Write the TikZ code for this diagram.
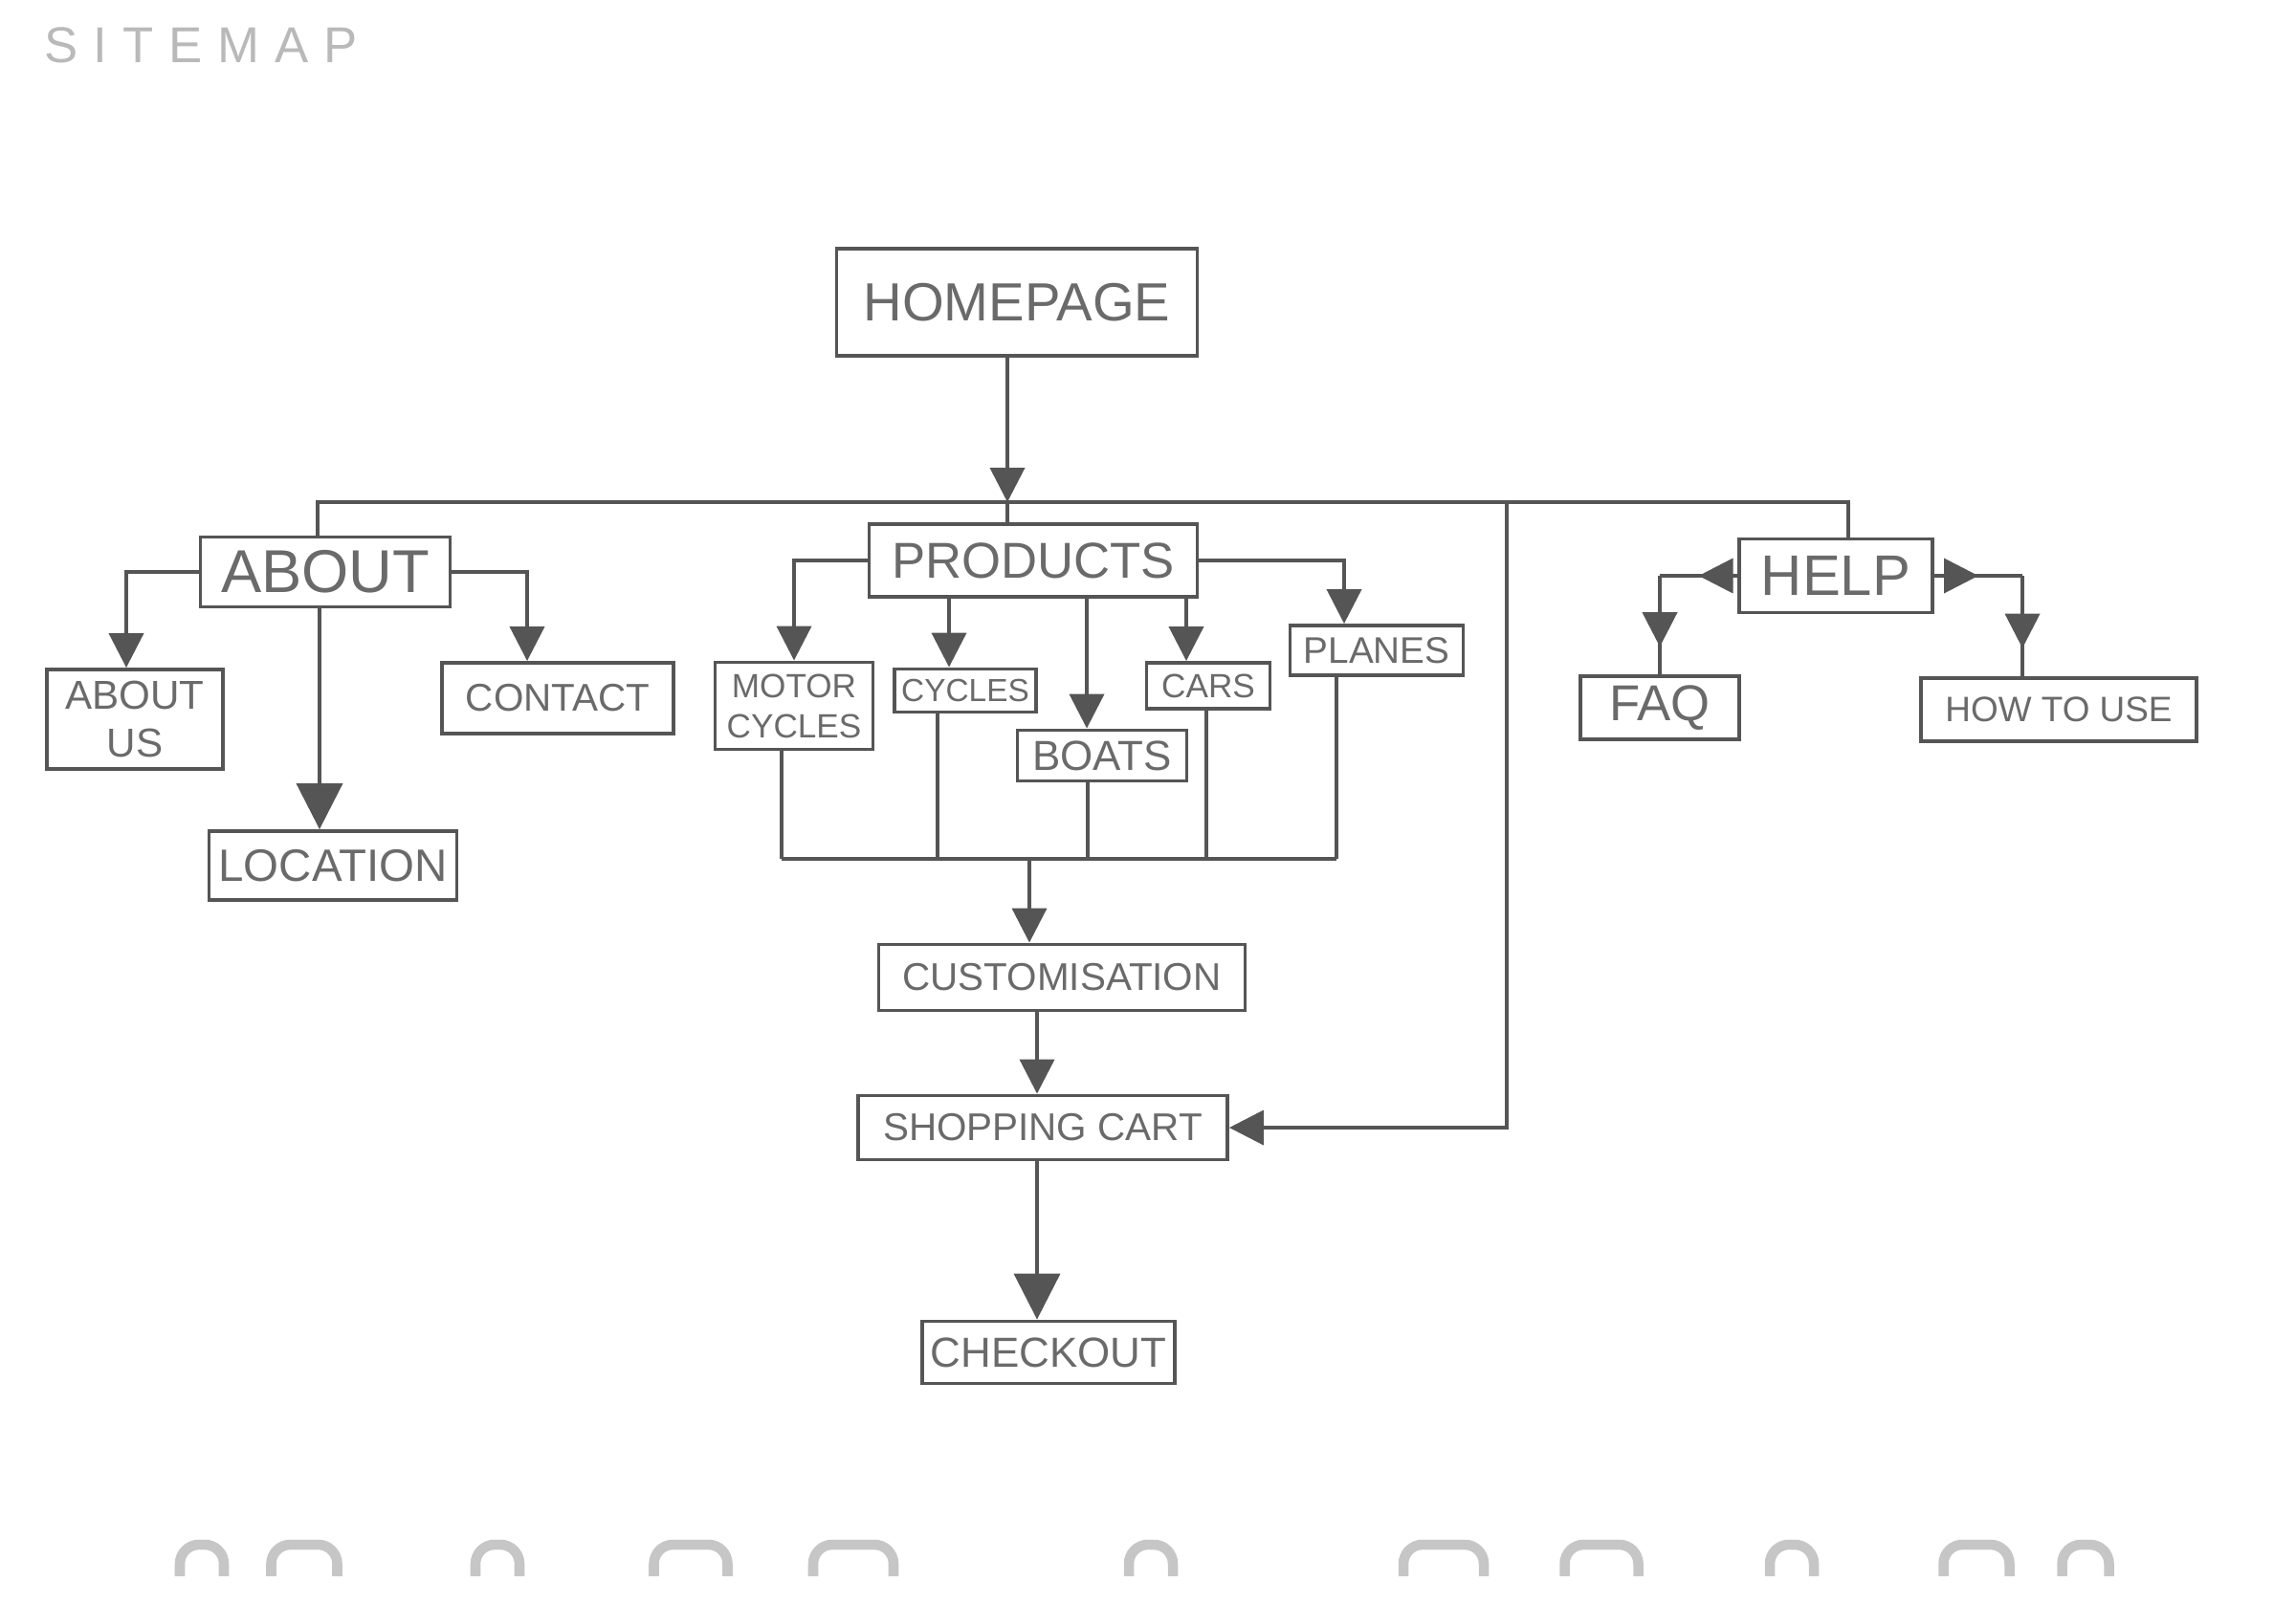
\documentclass[tikz,border=0pt]{standalone}
\usepackage{fontspec}
\setmainfont{Liberation Sans}
\newfontfamily\titlefont[LetterSpace=30]{Liberation Sans}
\usetikzlibrary{arrows.meta, positioning, decorations.markings}
\definecolor{pencil}{HTML}{555555}
\definecolor{lead}{HTML}{6A6A6A}
\newcommand{\fsz}[2]{\fontsize{#1}{#2}\selectfont}

\begin{document}
\begin{tikzpicture}[
        page/.style={rectangle, draw=pencil, line width=1.1pt, text=lead, inner sep=2pt, align=center},
        link/.style={draw=pencil, line width=1.1pt},
        arrow/.style={link, -{Triangle[length=3.6mm, width=3.6mm]}},
        bigarrow/.style={link, -{Triangle[length=4.8mm, width=4.8mm]}},
        midarrow/.style={link, postaction={decorate}, decoration={markings, mark=at position #1 with {\arrow{Triangle[length=3.6mm, width=3.6mm]}}}},
        midarrow/.default=0.5,
        hole/.style={draw=gray!45, line width=3pt, rounded corners=2mm}
    ]
        \useasboundingbox (0,0) rectangle (24,-16.97);

        \node[text=gray!55, font=\titlefont\fsz{15}{18}] (title) at (2.10,-0.47) {SITEMAP};

        % top level
        \node[page, minimum width=3.77cm, minimum height=1.12cm, font=\fsz{16}{19}] (home) at (10.63,-3.16) {HOMEPAGE};
        \node[page, minimum width=2.61cm, minimum height=0.73cm, font=\fsz{18}{21}] (about) at (3.40,-5.98) {ABOUT};
        \node[page, minimum width=3.43cm, minimum height=0.76cm, font=\fsz{15}{18}] (products) at (10.80,-5.86) {PRODUCTS};
        \node[page, minimum width=2.02cm, minimum height=0.77cm, font=\fsz{17}{20}] (help) at (19.19,-6.02) {HELP};

        % about
        \node[page, minimum width=1.84cm, minimum height=1.04cm, font=\fsz{12}{14}] (aboutus) at (1.41,-7.52) {ABOUT\\US};
        \node[page, minimum width=2.42cm, minimum height=0.74cm, font=\fsz{11.5}{14}] (contact) at (5.83,-7.30) {CONTACT};
        \node[page, minimum width=2.59cm, minimum height=0.72cm, font=\fsz{13.5}{16}] (location) at (3.48,-9.05) {LOCATION};

        % products
        \node[page, minimum width=1.65cm, minimum height=0.91cm, font=\fsz{10}{12}] (motor) at (8.30,-7.38) {MOTOR\\CYCLES};
        \node[page, minimum width=1.38cm, minimum height=0.45cm, font=\fsz{9.5}{11}] (cycles) at (10.09,-7.22) {CYCLES};
        \node[page, minimum width=1.77cm, minimum height=0.53cm, font=\fsz{12.5}{15}] (boats) at (11.52,-7.90) {BOATS};
        \node[page, minimum width=1.29cm, minimum height=0.48cm, font=\fsz{10}{12}] (cars) at (12.63,-7.17) {CARS};
        \node[page, minimum width=1.81cm, minimum height=0.52cm, font=\fsz{11}{13}] (planes) at (14.39,-6.80) {PLANES};

        \node[page, minimum width=3.83cm, minimum height=0.69cm, font=\fsz{11.5}{14}] (custom) at (11.10,-10.22) {CUSTOMISATION};
        \node[page, minimum width=3.86cm, minimum height=0.67cm, font=\fsz{11.5}{14}] (cart) at (10.90,-11.79) {SHOPPING CART};
        \node[page, minimum width=2.64cm, minimum height=0.65cm, font=\fsz{12.5}{15}] (checkout) at (10.96,-14.14) {CHECKOUT};

        % help
        \node[page, minimum width=1.66cm, minimum height=0.66cm, font=\fsz{15}{18}] (faq) at (17.35,-7.40) {FAQ};
        \node[page, minimum width=2.88cm, minimum height=0.66cm, font=\fsz{10.5}{13}] (howto) at (21.52,-7.42) {HOW TO USE};

        % main bus
        \coordinate (busL) at (3.32,-5.25);
        \coordinate (busR) at (19.32,-5.25);
        \coordinate (bushome) at (10.53,-5.25);
        \coordinate (buscart) at (15.75,-5.25);
        \draw[link] (about.north -| busL) -- (busL) -- (busR) -- (help.north -| busR);
        \draw[arrow] (home.south -| bushome) -- (bushome);
        \draw[link] (bushome) -- (products.north -| bushome);
        \draw[arrow] (buscart) |- (cart.east);

        % about branch
        \draw[arrow] (about.west) -| ([xshift=-0.09cm]aboutus.north);
        \draw[arrow] (about.east) -| ([xshift=-0.32cm]contact.north);
        \draw[bigarrow] ([xshift=-0.06cm]about.south) -- ([xshift=-0.06cm]about.south |- location.north);

        % products branch
        \draw[arrow] (products.west) -| (motor.north);
        \draw[arrow] ([xshift=-0.17cm]cycles.north |- products.south) -- ([xshift=-0.17cm]cycles.north);
        \draw[arrow] ([xshift=-0.16cm]boats.north |- products.south) -- ([xshift=-0.16cm]boats.north);
        \draw[arrow] ([xshift=-0.23cm]cars.north |- products.south) -- ([xshift=-0.23cm]cars.north);
        \draw[arrow] (products.east) -| ([xshift=-0.34cm]planes.north);

        \coordinate (merge) at (10.76,-8.98);
        \foreach \n/\dx in {motor/-0.13, cycles/-0.29, boats/-0.15, cars/-0.02, planes/-0.42}
            \draw[link] ([xshift=\dx cm]\n.south) -- ([xshift=\dx cm]\n.south |- merge);
        \draw[link] ([xshift=-0.13cm]motor.south |- merge) -- ([xshift=-0.42cm]planes.south |- merge);
        \draw[arrow] (merge) -- (merge |- custom.north);

        % checkout path
        \coordinate (spine) at (10.84,0);
        \draw[arrow] (custom.south -| spine) -- (cart.north -| spine);
        \draw[bigarrow] (cart.south -| spine) -- (checkout.north -| spine);

        % help branch
        \coordinate (howtop) at ([xshift=-0.38cm]howto.north);
        \draw[midarrow] (help.west) -- (help.west -| faq.north);
        \draw[midarrow=0.72] (help.west -| faq.north) -- (faq.north);
        \draw[midarrow] (help.east) -- (help.east -| howtop);
        \draw[midarrow=0.72] (help.east -| howtop) -- (howtop);

        % punch holes
        \foreach \x/\w in {2.11/0.46, 3.18/0.69, 5.20/0.46, 7.22/0.77, 8.92/0.84, 12.03/0.46, 15.09/0.84, 16.74/0.77, 18.73/0.46, 20.66/0.69, 21.80/0.49}
            \draw[hole] ({\x-\w/2},-16.48) |- ({\x+\w/2},-16.15) -- ({\x+\w/2},-16.48);
    \end{tikzpicture}
\end{document}
